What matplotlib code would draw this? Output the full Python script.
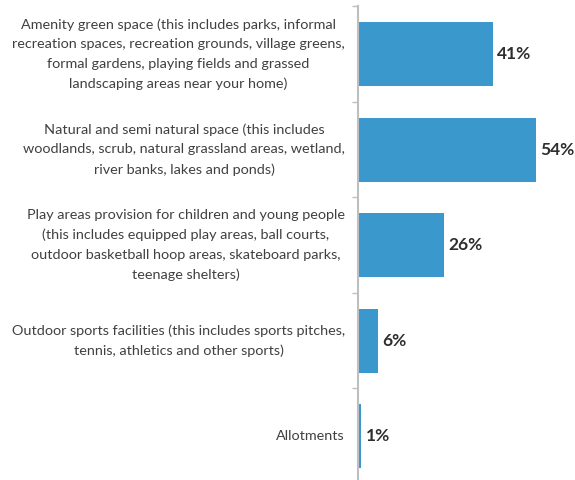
import matplotlib
matplotlib.use("Agg")
import matplotlib.pyplot as plt

categories = [
    "Amenity green space (this includes parks, informal\n"
    "recreation spaces, recreation grounds, village greens,\n"
    "formal gardens, playing fields and grassed\n"
    "landscaping areas near your home)",
    "Natural and semi natural space (this includes\n"
    "woodlands, scrub, natural grassland areas, wetland,\n"
    "river banks, lakes and ponds)",
    "Play areas provision for children and young people\n"
    "(this includes equipped play areas, ball courts,\n"
    "outdoor basketball hoop areas, skateboard parks,\n"
    "teenage shelters)",
    "Outdoor sports facilities (this includes sports pitches,\n"
    "tennis, athletics and other sports)",
    "Allotments",
]
values = [41, 54, 26, 6, 1]

W, H, DPI = 575, 480, 100
fig = plt.figure(figsize=(W / DPI, H / DPI), dpi=DPI)
fig.patch.set_facecolor("white")

ax_left = 358 / W
ax_top = 6.25 / H
ax_bottom = 484 / H
ax = fig.add_axes([ax_left, 1 - ax_bottom, 1 - ax_left, ax_bottom - ax_top])

bar_color = "#3B98CC"
text_color = "#404040"
font = "Lato"

pos = list(range(len(values)))
ax.barh(pos, values, height=0.67, color=bar_color, edgecolor="none")
ax.set_ylim(len(values) - 0.5, -0.5)
ax.set_xlim(0, (W - 358) / 3.3)

for p, v in zip(pos, values):
    ax.annotate(f"{v}%", xy=(v, p), xytext=(3, 0), textcoords="offset points",
                ha="left", va="center", fontsize=12.5, fontweight="bold",
                color="#2E2E2E", family=font)

# category labels: right-aligned blocks with centred lines
for p, lab in zip(pos, categories):
    ax.annotate(lab, xy=(0, p), xytext=(-13, 0), textcoords="offset pixels",
                ha="right", va="center", multialignment="center",
                fontsize=10.4, color=text_color, family=font, linespacing=1.75,
                annotation_clip=False)

ax.set_yticks([i - 0.5 for i in range(len(values) + 1)])
ax.set_yticklabels([])
ax.tick_params(axis="y", length=4, width=1, color="#BFBFBF", direction="out")
ax.set_xticks([])
for s in ["top", "right", "bottom"]:
    ax.spines[s].set_visible(False)
ax.spines["left"].set_color("#BFBFBF")
ax.spines["left"].set_linewidth(1.5)
ax.set_facecolor("none")

fig.savefig("out.png", dpi=DPI, facecolor="white")
